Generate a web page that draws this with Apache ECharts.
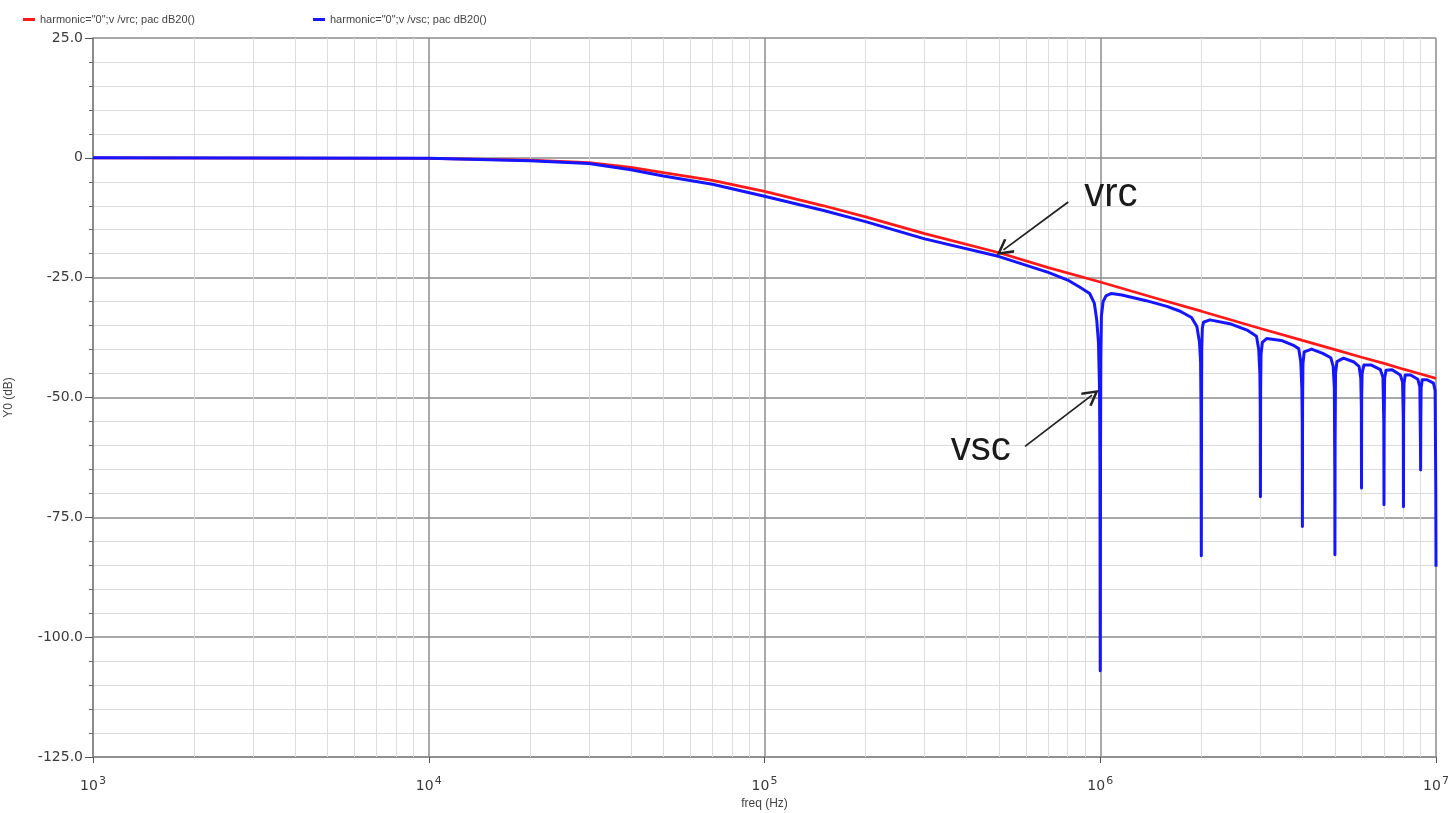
<!DOCTYPE html>
<html>
<head>
<meta charset="utf-8">
<script src="https://cdn.jsdelivr.net/npm/echarts@6/dist/echarts.min.js"></script>
<style>
  html, body { margin: 0; padding: 0; background: #fff; }
  #chart { width: 1453px; height: 813px; }
</style>
</head>
<body>
<div id="chart"></div>
<script>
// vrc: RC response (dB)
const freqVrc = [1e3, 1e4, 2e4, 3e4, 4e4, 5e4, 7e4, 1e5, 1.5e5, 2e5, 3e5, 5e5, 7e5, 1e6,
  1.5e6, 2e6, 3e6, 4e6, 5e6, 6e6, 7e6, 8e6, 9e6, 1e7]
const vrc = [0, -0.1, -0.5, -1.0, -2.0, -3.1, -4.7, -7.0, -10.0, -12.3, -15.8, -19.8, -22.9, -25.9,
  -29.5, -32.0, -35.6, -38.1, -40.0, -41.6, -42.9, -44.1, -45.1, -46.0]

// vsc: sampled response with notches at multiples of 1 MHz
const freqVsc = [1e3, 1e4, 2e4, 3e4, 4e4, 5e4, 7e4, 1e5, 1.5e5, 2e5, 3e5, 5e5, 7e5, 8e5,
  8.7e5, 9.3e5, 9.6e5, 9.76e5, 9.88e5, 9.95e5, 9.98e5, 1e6, 1.002e6, 1.004e6, 1.008e6, 1.02e6, 1.04e6, 1.08e6,
  1.16e6, 1.37e6, 1.58e6, 1.73e6, 1.87e6, 1.94e6, 1.975e6, 1.99e6, 1.996e6, 2e6, 2.003e6, 2.006e6, 2.014e6,
  2.03e6, 2.12e6, 2.43e6, 2.75e6, 2.92e6, 2.965e6, 2.988e6, 2.996e6, 3e6, 3.004e6, 3.012e6, 3.04e6,
  3.13e6, 3.46e6, 3.78e6, 3.9e6, 3.955e6, 3.985e6, 3.996e6, 4e6, 4.005e6, 4.015e6, 4.05e6,
  4.26e6, 4.6e6, 4.86e6, 4.94e6, 4.98e6, 4.995e6, 5e6, 5.006e6, 5.02e6, 5.07e6,
  5.3e6, 5.7e6, 5.9e6, 5.97e6, 5.993e6, 6e6, 6.006e6, 6.025e6, 6.1e6,
  6.4e6, 6.83e6, 6.95e6, 6.99e6, 7e6, 7.007e6, 7.03e6, 7.1e6,
  7.4e6, 7.83e6, 7.95e6, 7.99e6, 8e6, 8.008e6, 8.03e6, 8.1e6,
  8.4e6, 8.83e6, 8.95e6, 8.99e6, 9e6, 9.008e6, 9.03e6, 9.1e6,
  9.4e6, 9.83e6, 9.94e6, 9.985e6, 1e7]
const vsc = [0, -0.1, -0.6, -1.2, -2.5, -3.8, -5.5, -8.0, -11.0, -13.3, -16.9, -20.6, -23.9, -25.5,
  -27.0, -28.3, -30.3, -33.8, -38.6, -48, -65, -107, -60, -42, -33, -30, -28.8, -28.3,
  -28.6, -29.8, -31.0, -32.0, -33.3, -35.2, -38.5, -42.5, -53, -83, -52, -40, -35.5,
  -34.3, -33.8, -34.6, -36.0, -37.2, -40.0, -45, -52, -70.7, -48, -41, -38.5,
  -37.7, -38.1, -39.2, -39.8, -42.5, -48, -55, -76.9, -52, -43, -40.5,
  -39.9, -40.8, -41.7, -43.5, -48, -65, -82.8, -60, -45, -42.5,
  -41.8, -42.6, -43.5, -46, -52, -68.9, -50, -45, -43.2,
  -43.2, -44.2, -45.8, -55, -72.4, -56, -46, -44.3,
  -44.2, -45.3, -46.8, -54, -72.8, -54, -47, -45.3,
  -45.3, -46.2, -47.8, -60, -65.1, -56, -48, -46.3,
  -46.3, -47, -48.5, -69, -85.3]

const seriesNames = ['harmonic="0";v /vrc; pac dB20()', 'harmonic="0";v /vsc; pac dB20()']
const decades = [1e3, 1e4, 1e5, 1e6]
const minorSteps = [2, 3, 4, 5, 6, 7, 8, 9]

const minorGrid = []
decades.forEach( d => minorSteps.forEach( k => minorGrid.push( { xAxis : d * k } ) ) )

const chevron = 'path://M0,0 L6,9 L4.6,10 L0,3 L-4.6,10 L-6,9 Z'
const labelFont = 'DejaVu Sans'

const chart = echarts.init( document.getElementById( 'chart' ) )

chart.setOption( {
  backgroundColor : '#fff',
  animation : false,
  grid : { left : 93, right : 17, top : 38, bottom : 56, containLabel : false, outerBoundsMode : 'none' },
  legend : [
    {
      data : [seriesNames[0]], left : 18, top : 9, icon : 'rect', itemWidth : 12, itemHeight : 3,
      textStyle : { fontFamily : 'Liberation Sans', fontSize : 11, color : '#444' }
    },
    {
      data : [seriesNames[1]], left : 308, top : 9, icon : 'rect', itemWidth : 12, itemHeight : 3,
      textStyle : { fontFamily : 'Liberation Sans', fontSize : 11, color : '#444' }
    }
  ],
  xAxis : {
    type : 'log',
    logBase : 10,
    min : 1e3,
    max : 1e7,
    name : 'freq (Hz)',
    nameLocation : 'middle',
    nameGap : 40,
    nameTextStyle : { fontFamily : 'Liberation Sans', fontSize : 12, color : '#444' },
    axisLine : { show : true, onZero : false, lineStyle : { color : '#888', width : 1.5 } },
    axisTick : { show : true, length : 6, lineStyle : { color : '#555' } },
    splitLine : { show : true, lineStyle : { color : '#8c8c8c', width : 1.5 } },
    axisLabel : {
      margin : 19,
      color : '#3a3a3a',
      formatter : v => '{b|10}{e|' + Math.round( Math.log10( v ) ) + '}',
      rich : {
        b : { fontFamily : labelFont, fontSize : 14, color : '#3a3a3a' },
        e : { fontFamily : labelFont, fontSize : 11, color : '#3a3a3a', padding : [0, 0, 9, 1] }
      }
    }
  },
  yAxis : {
    type : 'value',
    min : -125,
    max : 25,
    interval : 25,
    name : 'Y0 (dB)',
    nameLocation : 'middle',
    nameGap : 78,
    nameTextStyle : { fontFamily : 'Liberation Sans', fontSize : 12, color : '#444' },
    axisLine : { show : true, lineStyle : { color : '#888', width : 1.5 } },
    axisTick : { show : true, length : 8, lineStyle : { color : '#555' } },
    minorTick : { show : true, splitNumber : 5, length : 4, lineStyle : { color : '#666' } },
    splitLine : { show : true, lineStyle : { color : '#8c8c8c', width : 1.5 } },
    minorSplitLine : { show : true, lineStyle : { color : '#dcdcdc', width : 1 } },
    axisLabel : {
      fontFamily : labelFont,
      fontSize : 14,
      color : '#3a3a3a',
      margin : 10,
      formatter : v => v === 0 ? '0' : v.toFixed( 1 )
    }
  },
  series : [
    {
      name : '_grid',
      type : 'line',
      data : [[1e3, 0]],
      symbol : 'none',
      silent : true,
      z : 1,
      lineStyle : { width : 0 },
      markLine : {
        z : 1,
        silent : true,
        symbol : 'none',
        label : { show : false },
        animation : false,
        lineStyle : { color : '#dcdcdc', width : 1, type : 'solid' },
        data : minorGrid
      }
    },
    {
      name : seriesNames[0],
      type : 'line',
      data : freqVrc.map( ( f, i ) => [f, vrc[i]] ),
      symbol : 'none',
      z : 3,
      itemStyle : { color : '#ff1a1a' },
      lineStyle : { color : '#ff1a1a', width : 2.8 }
    },
    {
      name : seriesNames[1],
      type : 'line',
      data : freqVsc.map( ( f, i ) => [f, vsc[i]] ),
      symbol : 'none',
      z : 4,
      itemStyle : { color : '#1515ff' },
      lineStyle : { color : '#1515ff', width : 3, join : 'round' }
    },
    {
      name : '_notes',
      type : 'line',
      data : [[1e3, 0]],
      symbol : 'none',
      silent : true,
      z : 5,
      lineStyle : { width : 0 },
      markLine : {
        z : 6,
        silent : true,
        animation : false,
        label : { show : false },
        symbol : ['none', chevron],
        symbolSize : [17, 17],
        lineStyle : { color : '#222', width : 1.8, type : 'solid' },
        data : [
          [{ coord : [8.03e5, -9.2] }, { coord : [5.15e5, -19.2] }],
          [{ coord : [5.97e5, -60.2] }, { coord : [9.45e5, -49.5] }]
        ]
      },
      markPoint : {
        z : 6,
        silent : true,
        animation : false,
        symbol : 'circle',
        symbolSize : 1,
        itemStyle : { color : 'transparent' },
        label : {
          show : true,
          position : 'inside',
          fontFamily : 'Liberation Sans',
          fontSize : 40,
          color : '#1a1a1a'
        },
        data : [
          { coord : [1.075e6, -7.7], label : { formatter : 'vrc' } },
          { coord : [4.41e5, -60.7], label : { formatter : 'vsc' } }
        ]
      }
    }
  ]
} )
</script>
</body>
</html>
